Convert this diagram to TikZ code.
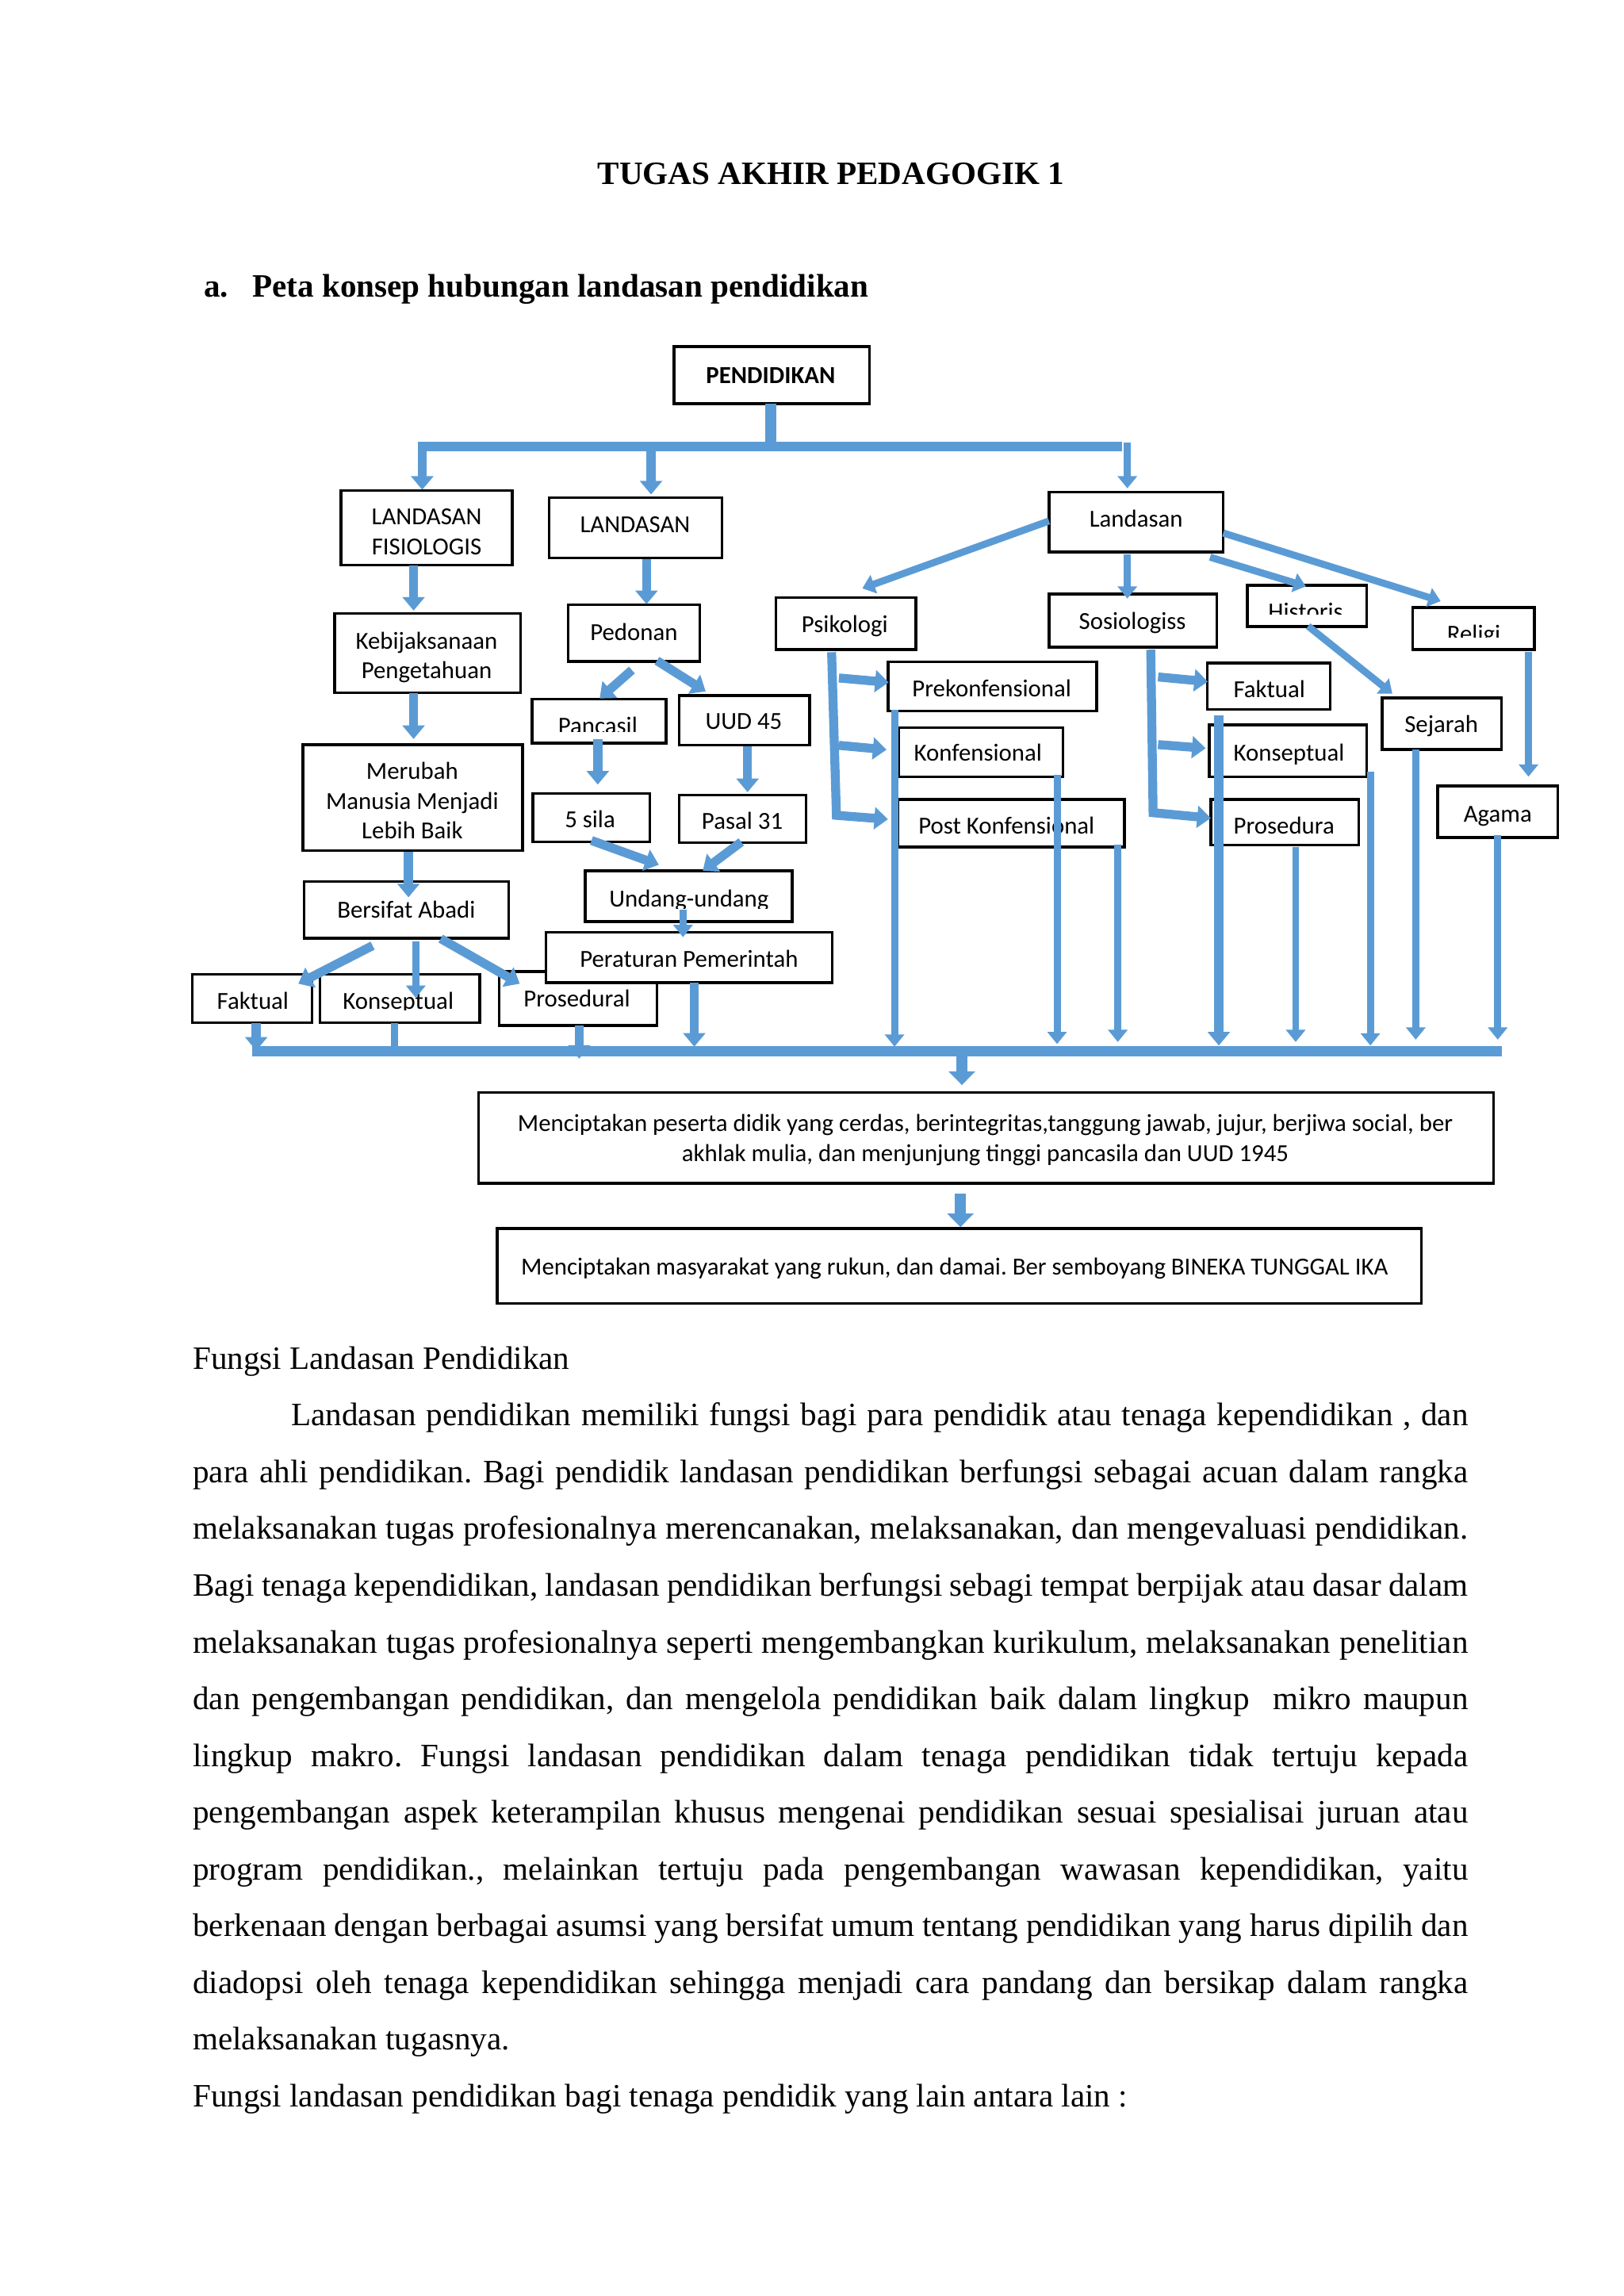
\documentclass[tikz,border=0pt]{standalone}
\usepackage{fontspec}
\setmainfont{Liberation Serif}
\newfontfamily\diagfont{Carlito}
\usetikzlibrary{arrows.meta,fit}
\definecolor{blu}{RGB}{91,155,213}
\frenchspacing
\newcommand\mkbox[5]{\node[bx, fit={(#2,#3) (#4,#5)}] (#1) {};}
\newcommand\jline[3]{\node[body] (#1) at (131.4,#2) {\makebox[16.493cm][s]{#3}};}
\begin{document}
\begin{tikzpicture}[x=0.018936cm,y=-0.018936cm,
  body/.style={font=\fontsize{12}{14}\selectfont, inner sep=0pt, anchor=base west},
  dt/.style={font=\diagfont\fontsize{9}{11}\selectfont, inner sep=0pt, anchor=base},
  bx/.style={draw=black, line width=1pt, fill=white, inner sep=0pt},
  ar/.style={draw=blu, line width=2.6pt, -{Triangle[width=7pt,length=4.5pt]}},
  am/.style={draw=blu, line width=3.3pt, -{Triangle[width=8pt,length=5pt]}},
  big/.style={draw=blu, line width=4pt, -{Triangle[width=9.5pt,length=5pt]}},
  ln/.style={draw=blu, line width=2.6pt},
  bus/.style={draw=blu, line width=3.7pt},
  line join=miter]
\useasboundingbox (0,0) rectangle (1109,1568);
\fill[white] (0,0) rectangle (1109,1568);

% ---------- headings ----------
\node[font=\bfseries\fontsize{12}{14}\selectfont, anchor=base, inner sep=0pt] (title) at (567.5,126) {TUGAS AKHIR PEDAGOGIK 1};
\node[font=\bfseries\fontsize{12}{14}\selectfont, anchor=base west, inner sep=0pt] (ha) at (139,203) {a.};
\node[font=\bfseries\fontsize{12}{14}\selectfont, anchor=base west, inner sep=0pt] (hb) at (172,203) {Peta konsep hubungan landasan pendidikan};

% ---------- boxes ----------
\mkbox{pend}{460.3}{236.7}{594}{275.6}
\mkbox{lf}{233}{335}{350}{386}
\mkbox{ld}{375}{340}{493}{381}
\mkbox{ls}{716.5}{336}{835.5}{377}
\mkbox{kb}{228.5}{419}{355.5}{473}
\mkbox{pd}{388}{413}{478}{451.6}
\mkbox{psi}{530}{408}{625.5}{443.5}
\mkbox{sos}{716.5}{405.6}{831}{442}
\mkbox{his}{852}{399.6}{933.5}{427.8}
\mkbox{rel}{965}{414.8}{1048}{443.5}
\mkbox{pnc}{363.5}{477.5}{455}{507.5}
\mkbox{uud}{464}{475}{553}{509}
\mkbox{mer}{207}{508.5}{357}{581}
\mkbox{lima}{364}{542}{444}{575}
\mkbox{pas}{464}{543}{550.5}{575.5}
\mkbox{und}{399.6}{594.7}{541}{629.3}
\mkbox{ber}{207.8}{602}{347.4}{640.7}
\mkbox{fak}{131.4}{665.5}{213}{698.5}
\mkbox{kon}{218.4}{665.5}{327.6}{698.5}
\mkbox{pro}{341}{663.4}{448.7}{700.4}
\mkbox{per}{373}{636.6}{568.5}{671}
\mkbox{prek}{606.5}{452}{749}{485.5}
\mkbox{konf}{614}{496.8}{726}{530.4}
\mkbox{post}{613}{546}{768}{578.5}
\mkbox{faktb}{824.7}{452.7}{908.7}{484.4}
\mkbox{konb}{826}{495}{933.5}{530.4}
\mkbox{prosb}{827}{546}{928}{577}
\mkbox{sej}{944}{476.6}{1025.6}{511.8}
\mkbox{aga}{982}{536.8}{1064}{572}
\mkbox{mA}{327}{746}{1020}{808}
\mkbox{mB}{339.5}{839}{971}{890}

% ---------- box texts ----------
\node[dt, font=\diagfont\bfseries\fontsize{9}{11}\selectfont] (pend-t) at (526.4,261.7) {PENDIDIKAN};
\node[dt] (lf-t1) at (291.4,358.4) {LANDASAN};
\node[dt] (lf-t2) at (291.4,379.1) {FISIOLOGIS};
\node[dt] (ld-t) at (433.8,363.9) {LANDASAN};
\node[dt] (ls-t) at (776,360.1) {Landasan};
\node[dt] (kb-t1) at (291.4,443.4) {Kebijaksanaan};
\node[dt] (kb-t2) at (291.4,463.4) {Pengetahuan};
\node[dt] (pd-t) at (433,437.4) {Pedonan};
\node[dt] (psi-t) at (577,431.9) {Psikologi};
\node[dt] (sos-t) at (773.5,429.8) {Sosiologiss};
\begin{scope}
\clip (852,399) rectangle (934,419.5);
\node[dt] (his-t) at (891.8,423.4) {Historis};
\end{scope}
\begin{scope}
\clip (965,414) rectangle (1048,435);
\node[dt] (rel-t) at (1006.6,438.4) {Religi};
\end{scope}
\begin{scope}
\clip (363,477) rectangle (455,499.4);
\node[dt] (pnc-t) at (408.3,501.2) {Pancasil};
\end{scope}
\node[dt] (uud-t) at (508,498.2) {UUD 45};
\node[dt] (mer-t1) at (281.6,532.4) {Merubah};
\node[dt] (mer-t2) at (281.6,552.9) {Manusia Menjadi};
\node[dt] (mer-t3) at (281.6,573) {Lebih Baik};
\node[dt] (lima-t) at (403,565.4) {5 sila};
\node[dt] (pas-t) at (507,566.4) {Pasal 31};
\begin{scope}
\clip (399,594) rectangle (541,620.5);
\node[dt] (und-t) at (470.6,619.1) {Undang-undang};
\end{scope}
\node[dt] (ber-t) at (277.5,627.1) {Bersifat Abadi};
\node[dt] (fak-t) at (172.7,689.4) {Faktual};
\begin{scope}
\clip (218,665) rectangle (328,690);
\node[dt] (kon-t) at (272,689.4) {Konseptual};
\end{scope}
\node[dt] (pro-t) at (394,687.7) {Prosedural};
\node[dt] (per-t) at (470.6,660.4) {Peraturan Pemerintah};
\node[dt] (prek-t) at (677.4,475.9) {Prekonfensional};
\node[dt] (konf-t) at (668,519.8) {Konfensional};
\node[dt] (post-t) at (687.5,569.4) {Post Konfensional};
\node[dt] (faktb-t) at (867,476.4) {Faktual};
\node[dt] (konb-t) at (880.4,519.8) {Konseptual};
\node[dt] (prosb-t) at (877,569.4) {Prosedura};
\node[dt] (sej-t) at (984.5,500.4) {Sejarah};
\node[dt] (aga-t) at (1023,561.4) {Agama};
\node[dt] (mA-t1) at (673,772.4) {Menciptakan peserta didik yang cerdas, berintegritas,tanggung jawab, jujur, berjiwa social, ber};
\node[dt] (mA-t2) at (673,793.4) {akhlak mulia, dan menjunjung tinggi pancasila dan UUD 1945};
\node[dt] (mB-t) at (652,870.4) {Menciptakan masyarakat yang rukun, dan damai. Ber semboyang BINEKA TUNGGAL IKA};

% ---------- top distribution ----------
\draw[blu, line width=3.9pt] (526.4,275.6) -- (526.4,302);
\draw[bus] (285.3,305) -- (766.6,305);
\draw[am] (288.4,303) -- (288.4,334.5);
\draw[am] (444.7,307) -- (444.7,337.7);
\draw[ar] (770,302) -- (770,333.5);

% ---------- left column ----------
\draw[am] (282.5,386.3) -- (282.5,417);
\draw[am] (282.5,473.6) -- (282.5,504.7);
\draw[am] (279,581.5) -- (279,612.8);
\draw[am] (254.5,645.8) -- (203.8,671.8);
\draw[ar] (284,643) -- (284,681.4);
\draw[am] (301,641) -- (355,671.8);
\draw[am] (175,698.5) -- (175,717.5);
\draw[ln] (269.7,698.5) -- (269.7,716);
\draw[am] (395.6,700.4) -- (395.6,723);
\draw[am] (474.2,671) -- (474.2,714.8);

% ---------- second column ----------
\draw[am] (441.6,381.6) -- (441.6,412.6);
\draw[am] (431.6,457.6) -- (409.6,477);
\draw[am] (448.7,451.2) -- (482,472.2);
\draw[am] (408.3,504.7) -- (408.3,535.8);
\draw[am] (510.6,509.6) -- (510.6,541);
\draw[am] (404,574) -- (450,590.6);
\draw[am] (506.3,575) -- (480,594.7);
\draw[ar] (466.5,621) -- (466.5,640);

% ---------- right part ----------
\draw[ar] (716.5,355.8) -- (589,401.8);
\draw[ar] (770,378.4) -- (770,408.8);
\draw[ar] (826.5,380.5) -- (892,400.4);
\draw[ar] (835.5,364) -- (984,410.5);
\draw[ar] (893.5,427.6) -- (951,473.7);
\draw[ar] (1044,445.4) -- (1044,530.4);

\draw[am] (568,445.4) -- (571.3,556.8) -- (606.5,559.5);
\draw[am] (573,463) -- (607,466);
\draw[am] (573,509) -- (605.5,512);
\draw[am] (786,443.7) -- (787.6,555) -- (827,558.7);
\draw[am] (791,462.3) -- (825,465.5);
\draw[am] (791,508.5) -- (823.5,511);

\draw[ar] (611,484.5) -- (611,714.8);
\draw[ar] (722,529) -- (722,713);
\draw[ar] (763.5,577) -- (763.5,711.6);
\draw[am] (832.5,488.5) -- (832.5,714);
\draw[ar] (885,578.5) -- (885,711.6);
\draw[ar] (936,526.8) -- (936,714);
\draw[ar] (967,512) -- (967,710);
\draw[ar] (1023,570.4) -- (1023,710);

% ---------- bottom bus ----------
\draw[bus] (172,718) -- (1026,718);
\draw[big] (657,718) -- (657,741);
\draw[big] (656,815) -- (656,838);

% ---------- body text ----------
\node[body] (l0) at (131.4,935) {Fungsi Landasan Pendidikan};
\node[body] (l1) at (198.6,973.75) {\makebox[15.221cm][s]{Landasan pendidikan memiliki fungsi bagi para pendidik atau tenaga kependidikan , dan}};
\jline{l2}{1012.5}{para ahli pendidikan. Bagi pendidik landasan pendidikan berfungsi sebagai acuan dalam rangka}
\jline{l3}{1051.25}{melaksanakan tugas profesionalnya merencanakan, melaksanakan, dan mengevaluasi pendidikan.}
\jline{l4}{1090}{Bagi tenaga kependidikan, landasan pendidikan berfungsi sebagi tempat berpijak atau dasar dalam}
\jline{l5}{1128.75}{melaksanakan tugas profesionalnya seperti mengembangkan kurikulum, melaksanakan penelitian}
\jline{l6}{1167.5}{dan pengembangan pendidikan, dan mengelola pendidikan baik dalam lingkup~ mikro maupun}
\jline{l7}{1206.25}{lingkup makro. Fungsi landasan pendidikan dalam tenaga pendidikan tidak tertuju kepada}
\jline{l8}{1245}{pengembangan aspek keterampilan khusus mengenai pendidikan sesuai spesialisai juruan atau}
\jline{l9}{1283.75}{program pendidikan., melainkan tertuju pada pengembangan wawasan kependidikan, yaitu}
\jline{l10}{1322.5}{berkenaan dengan berbagai asumsi yang bersifat umum tentang pendidikan yang harus dipilih dan}
\jline{l11}{1361.25}{diadopsi oleh tenaga kependidikan sehingga menjadi cara pandang dan bersikap dalam rangka}
\node[body] (l12) at (131.4,1400) {melaksanakan tugasnya.};
\node[body] (l13) at (131.4,1438.75) {Fungsi landasan pendidikan bagi tenaga pendidik yang lain antara lain :};
\end{tikzpicture}
\end{document}
